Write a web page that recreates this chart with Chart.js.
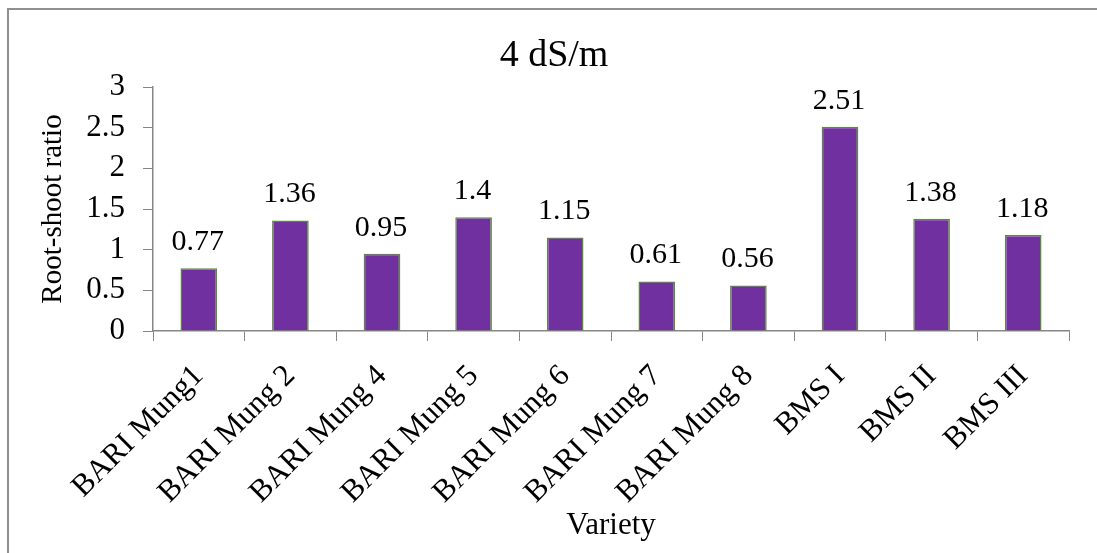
<!DOCTYPE html>
<html>
<head>
<meta charset="utf-8">
<script src="https://cdn.jsdelivr.net/npm/chart.js@4/dist/chart.umd.min.js"></script>
<style>
  html, body { margin: 0; padding: 0; background: #fff; overflow: hidden; width: 1097px; height: 553px; }
  #frame { position: absolute; left: 7px; top: 8px; width: 2000px; height: 2000px; border-left: 2px solid #8f8f8f; border-top: 2px solid #8f8f8f; }
  #c { position: absolute; left: 0; top: 0; }
</style>
</head>
<body>
<div id="frame"></div>
<canvas id="c" width="1108" height="553"></canvas>
<script>
const categories = ["BARI Mung1", "BARI Mung 2", "BARI Mung 4", "BARI Mung 5", "BARI Mung 6", "BARI Mung 7", "BARI Mung 8", "BMS I", "BMS II", "BMS III"];
const ratioValues = [0.77, 1.36, 0.95, 1.4, 1.15, 0.61, 0.56, 2.51, 1.38, 1.18];
const yTicks = [0, 0.5, 1, 1.5, 2, 2.5, 3];

const FONT = "'Liberation Serif', 'Times New Roman', serif";
const AXIS_GRAY = '#868686';

const valueLabels = {
  id: 'valueLabels',
  afterDatasetsDraw(chart) {
    const ctx = chart.ctx;
    const meta = chart.getDatasetMeta(0);
    ctx.save();
    ctx.font = '30px ' + FONT;
    ctx.fillStyle = '#000';
    ctx.textAlign = 'center';
    ctx.textBaseline = 'alphabetic';
    meta.data.forEach((bar, i) => {
      ctx.fillText(String(ratioValues[i]), bar.x - 1, bar.y - 18);
    });
    ctx.restore();
  }
};

new Chart(document.getElementById('c'), {
  type: 'bar',
  data: {
    labels: categories,
    datasets: [{
      data: ratioValues,
      backgroundColor: '#7030A0',
      borderColor: '#5b8a3a',
      borderWidth: 1.5,
      categoryPercentage: 1,
      barPercentage: 0.4
    }]
  },
  options: {
    responsive: false,
    animation: false,
    layout: { padding: { top: 0, left: 39, right: 39, bottom: 0 } },
    plugins: {
      legend: { display: false },
      tooltip: { enabled: false },
      title: {
        display: true,
        text: '4 dS/m',
        color: '#000',
        font: { family: FONT, size: 38, weight: 'normal' },
        padding: { top: 33, bottom: 8.4 }
      }
    },
    scales: {
      x: {
        grid: { display: true, drawOnChartArea: false, drawTicks: true, tickLength: 10, tickColor: AXIS_GRAY, offset: true },
        border: { display: true, color: AXIS_GRAY, width: 1.5 },
        ticks: {
          color: '#000',
          font: { family: FONT, size: 31 },
          maxRotation: 45,
          minRotation: 45,
          padding: 17,
          autoSkip: false
        },
        title: {
          display: true,
          text: 'Variety',
          color: '#000',
          font: { family: FONT, size: 31 },
          padding: { top: 0, bottom: 9 }
        },
        afterFit(scale) { scale.height = 222; }
      },
      y: {
        min: 0,
        max: 3,
        afterBuildTicks(scale) { scale.ticks = yTicks.map(v => ({ value: v })); },
        grid: { display: true, drawOnChartArea: false, drawTicks: true, tickLength: 10, tickColor: AXIS_GRAY },
        border: { display: true, color: AXIS_GRAY, width: 1.5 },
        ticks: {
          color: '#000',
          font: { family: FONT, size: 31 },
          padding: 18,
          callback: (v) => String(v)
        },
        title: {
          display: true,
          text: 'Root-shoot ratio',
          color: '#000',
          font: { family: FONT, size: 29 },
          padding: { top: -3, bottom: 0 }
        },
        afterFit(scale) { scale.width = 114; }
      }
    }
  },
  plugins: [valueLabels]
});
</script>
</body>
</html>
